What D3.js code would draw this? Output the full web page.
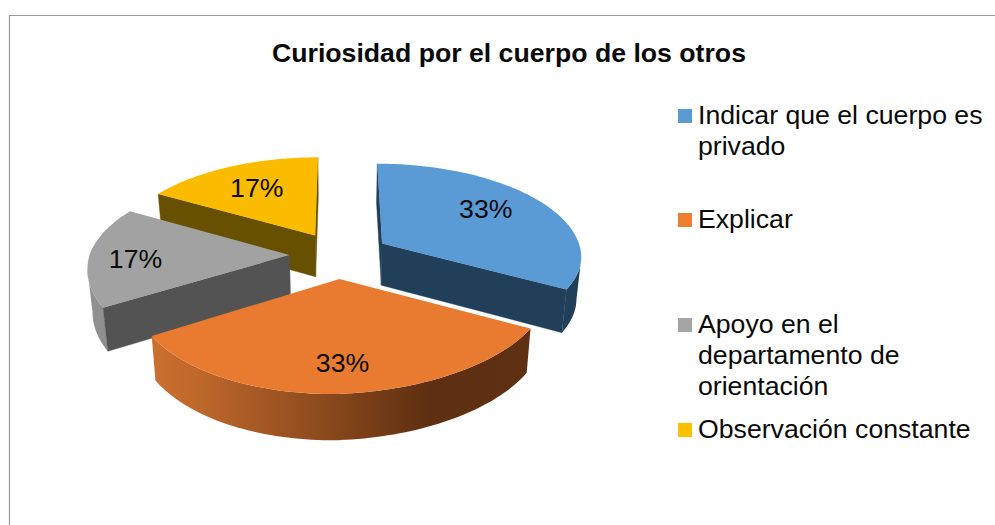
<!DOCTYPE html>
<html lang="es">
<head>
<meta charset="utf-8">
<script src="https://cdn.jsdelivr.net/npm/d3@7/dist/d3.min.js"></script>
<style>
html,body{margin:0;padding:0;background:#fff;overflow:hidden}
svg{display:block}
text{font-family:"Liberation Sans",Arial,sans-serif;fill:#0a0a0a}
</style>
</head>
<body>
<svg id="chart" width="995" height="525"></svg>
<script>
// Data
const chartTitle = "Curiosidad por el cuerpo de los otros";
const categories = ["Indicar que el cuerpo es privado","Explicar","Apoyo en el departamento de orientación","Observación constante"];
const seriesValues = [2,2,1,1];
// Legend line breaks
const legendLines = [["Indicar que el cuerpo es","privado"],["Explicar"],["Apoyo en el","departamento de","orientación"],["Observación constante"]];
// Styles
const topColors  = ["#5B9BD5","#E97B30","#A2A2A2","#FBBC00"];
const swatchColors = ["#5B9BD5","#ED7D31","#A5A5A5","#FFC000"];
const faceColors = ["#223F59","#5F3012","#535353","#675000"];
const wallStops  = [
  [["0","#223F59"],["1","#223F59"]],
  [["0","#CB6F2E"],["0.12","#BE682B"],["0.45","#8C4A1D"],["0.73","#5E2F11"],["1","#5F3012"]],
  [["0","#929292"],["1","#8A8A8A"]],
  [["0","#B88A00"],["1","#B88A00"]]
];
const paintOrder = [3,0,2,1];
const explode = 0.25, perspective = 0.13;
const labelRadius = [0.65,0.75,0.77,0.65];
const labelNudge = [[-1,-7],[3,1],[0,4],[-1,-2]];
const legendBaselines = [[124,155],[228],[333,364,395],[438]];
const fontSize = 26.67;

const W = 995, H = 525;
const svg = d3.select("#chart");
svg.append("path").attr("d", d3.line()([[W,15.5],[9.5,15.5],[9.5,H]])).attr("fill","none").attr("stroke","#9A9A9A").attr("stroke-width",1.2);

const xS = d3.scaleLinear().domain([-1,1]).range([139.5,539.5]);
const yS = d3.scaleLinear().domain([-1,1]).range([162,348]);

// 3-D unit disc -> screen, z = 0 top surface, z = 1 bottom surface
function project(X0,Y0,z){
  // slight twist of the front half of the pie, as in the source picture
  const Y = Y0>0 ? Y0*(1-0.05*X0) : Y0;
  const X = (X0<0 && Y0>0) ? X0+0.03*Y0 : X0;
  const s = 1/(1-perspective*Y);
  const x = xS(0)+(xS(X)-xS(0))*s;
  const y = yS(0)+(yS(Y)-yS(0))*s;
  if(!z) return [x,y];
  const depth = 20+22*s;
  return [xS(0)+(x-xS(0))*0.98, y+depth];
}
const pie = d3.pie().sort(null).value(d=>d).startAngle(0).endAngle(2*Math.PI);
const arcs = pie(seriesValues);
const total = d3.sum(seriesValues);
const fmt = d3.format(".0%");
const line = d3.line();

const defs = svg.append("defs");
arcs.forEach((a,i)=>{
  const mid=(a.startAngle+a.endAngle)/2;
  const ox=explode*Math.sin(mid), oy=-explode*Math.cos(mid);
  const pt=(th,r,z)=>project(ox+r*Math.sin(th),oy-r*Math.cos(th),z);
  a.pt=pt;
  const n=80;
  const ths=d3.range(n+1).map(k=>a.startAngle+(a.endAngle-a.startAngle)*k/n);
  a.topPts=[pt(0,0,0),...ths.map(t=>pt(t,1,0))];
  // outer wall: only the run of the arc that faces the viewer (moving right-to-left on screen)
  const front=ths.filter((t,k)=>(k>0 && pt(t,1,0)[0]<pt(ths[k-1],1,0)[0]) || (k<n && pt(ths[k+1],1,0)[0]<pt(t,1,0)[0]));
  a.wallPts=front.length>1 ? [...front.map(t=>pt(t,1,0)),...front.slice().reverse().map(t=>pt(t,1,1))] : null;
  a.startFace=[pt(a.startAngle,0,0),pt(a.startAngle,1,0),pt(a.startAngle,1,1),pt(a.startAngle,0,1)];
  a.endFace=[pt(a.endAngle,0,0),pt(a.endAngle,1,0),pt(a.endAngle,1,1),pt(a.endAngle,0,1)];
  const xs=ths.flatMap(t=>[pt(t,1,0)[0],pt(t,1,1)[0]]);
  const g=defs.append("linearGradient").attr("id","wall"+i).attr("gradientUnits","userSpaceOnUse")
    .attr("x1",d3.min(xs)).attr("x2",d3.max(xs)).attr("y1",0).attr("y2",0);
  wallStops[i].forEach(s=>g.append("stop").attr("offset",s[0]).attr("stop-color",s[1]));
});

paintOrder.forEach(i=>{
  const a=arcs[i], g=svg.append("g").attr("class","slice");
  const startVisible=(a.startFace[1][0]-a.startFace[0][0])<0;
  const endVisible=(a.endFace[1][0]-a.endFace[0][0])>0;
  if(a.wallPts) g.append("path").attr("d",line(a.wallPts)+"Z").attr("fill",`url(#wall${i})`);
  if(startVisible) g.append("path").attr("d",line(a.startFace)+"Z").attr("fill",faceColors[i]).attr("stroke",faceColors[i]).attr("stroke-width",0.4);
  if(endVisible) g.append("path").attr("d",line(a.endFace)+"Z").attr("fill",faceColors[i]).attr("stroke",faceColors[i]).attr("stroke-width",0.4);
  g.append("path").attr("d",line(a.topPts)+"Z").attr("fill",topColors[i]);
});

// Data labels
arcs.forEach((a,i)=>{
  const mid=(a.startAngle+a.endAngle)/2;
  const p=a.pt(mid,labelRadius[i],0);
  svg.append("text").attr("x",p[0]+labelNudge[i][0]).attr("y",p[1]+labelNudge[i][1]).attr("dy","0.35em")
    .attr("text-anchor","middle").attr("font-size",fontSize).text(fmt(a.value/total));
});

// Title
svg.append("text").attr("x",509).attr("y",62).attr("text-anchor","middle")
  .attr("font-size",fontSize).attr("font-weight","bold").text(chartTitle);

// Legend
categories.forEach((c,i)=>{
  const g=svg.append("g").attr("class","legend-item");
  const b0=legendBaselines[i][0];
  g.append("rect").attr("x",678).attr("y",b0-15).attr("width",14).attr("height",14).attr("fill",swatchColors[i]);
  legendLines[i].forEach((t,j)=>{
    g.append("text").attr("x",698).attr("y",legendBaselines[i][j]).attr("font-size",fontSize).text(t);
  });
});
</script>
</body>
</html>
